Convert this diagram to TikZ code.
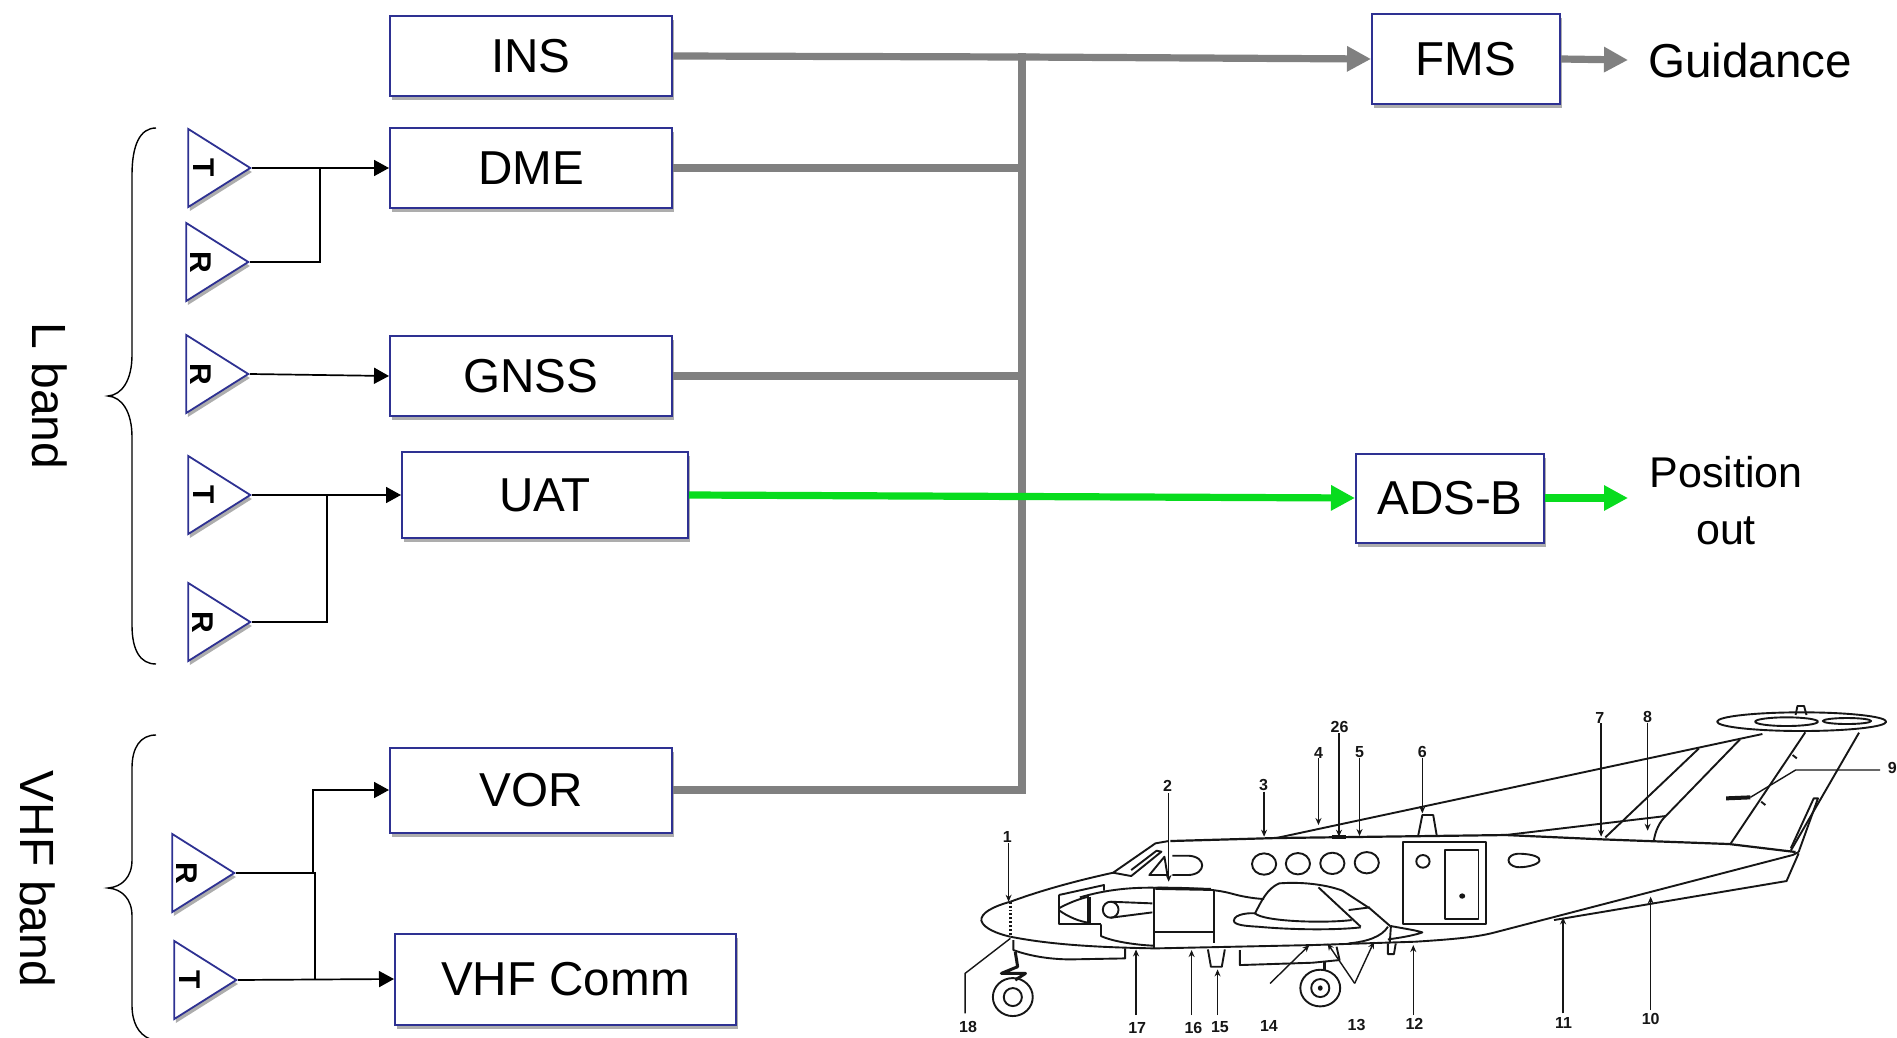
\documentclass[tikz,border=0pt]{standalone}
\usepackage{fontspec}
\setmainfont{Liberation Sans}
\usetikzlibrary{arrows.meta,shapes.geometric,shadows}
\definecolor{boxblue}{HTML}{2E3192}
\definecolor{busgray}{HTML}{808080}
\definecolor{adsgreen}{HTML}{08DC1E}
\definecolor{ink}{HTML}{161616}
\tikzset{
  softshadow/.style={drop shadow={shadow xshift=.8pt,shadow yshift=-2pt,opacity=.32,fill=black}},
  unit/.style={draw=boxblue,line width=1pt,fill=white,softshadow,inner sep=0pt,font=\fontsize{23.8}{26}\selectfont},
  antenna/.style={isosceles triangle,isosceles triangle apex angle=63.4,isosceles triangle stretches,
     minimum width=39pt,minimum height=31pt,inner sep=0pt,anchor=apex,draw=boxblue,line width=.9pt,fill=white,softshadow},
  antlabel/.style={rotate=-90,font=\bfseries\fontsize{15}{15}\selectfont,inner sep=0pt},
  feed/.style={draw=black,line width=.85pt},
  feedarrow/.style={feed,-{Triangle[length=7.5pt,width=8pt]}},
  bus/.style={draw=busgray,line width=3.6pt},
  busarrow/.style={bus,-{Triangle[length=12pt,width=12pt]}},
  greenarrow/.style={draw=adsgreen,line width=3.6pt,-{Triangle[length=12pt,width=12pt]}},
  bracket/.style={draw=black,line width=.7pt},
  bandlabel/.style={rotate=-90,font=\fontsize{24}{26}\selectfont,inner sep=0pt},
  outlabel/.style={inner sep=0pt,anchor=west},
  plane/.style={draw=ink,line width=.95pt,line join=round},
  leader/.style={draw=ink,line width=.7pt,-{Stealth[length=3.5pt,width=3pt]}},
  leaderplain/.style={draw=ink,line width=.7pt},
  num/.style={inner sep=0pt,text=ink,font=\bfseries\fontsize{8}{8}\selectfont},
}
\begin{document}
\begin{tikzpicture}[x=0.5pt,y=-0.5pt]
\useasboundingbox (0,0) rectangle (1897,1038);
\fill[white] (0,0) rectangle (1897,1038);
\clip (0,0) rectangle (1897,1038);

% boxes
\node[unit,minimum width=141pt,minimum height=40pt] (ins) at (531,56) {INS};
\node[unit,minimum width=141pt,minimum height=40pt] (dme) at (531,168) {DME};
\node[unit,minimum width=141pt,minimum height=40pt] (gnss) at (531,376) {GNSS};
\node[unit,minimum width=143pt,minimum height=43pt] (uat) at (545,495) {UAT};
\node[unit,minimum width=141pt,minimum height=42.5pt] (vor) at (531,790) {VOR};
\node[unit,minimum width=170.5pt,minimum height=45.5pt] (vhf) at (565.5,979) {VHF Comm};
\node[unit,minimum width=94pt,minimum height=45pt] (fms) at (1466,59) {FMS};
\node[unit,minimum width=94pt,minimum height=44.5pt] (adsb) at (1450,498) {ADS-B};

% antennas
\node[antenna] (t1) at (252,168) {};
\node[antenna] (r1) at (250,262) {};
\node[antenna] (r2) at (250,374) {};
\node[antenna] (t2) at (252,495) {};
\node[antenna] (r3) at (252,622) {};
\node[antenna] (r4) at (236,873) {};
\node[antenna] (t3) at (238,980) {};
\node[antlabel] (t1l) at (204,168) {T};
\node[antlabel] (r1l) at (201,262) {R};
\node[antlabel] (r2l) at (201,374) {R};
\node[antlabel] (t2l) at (204,495) {T};
\node[antlabel] (r3l) at (203,622) {R};
\node[antlabel] (r4l) at (187,873) {R};
\node[antlabel] (t3l) at (190,980) {T};

% antenna feeds
\coordinate (ja) at (320,168);
\coordinate (jb) at (327,495);
\coordinate (jc) at (313,873);
\coordinate (jd) at (315,873);
\coordinate (je) at (315,979);
\draw[feedarrow] (t1.apex) -- (dme.west);
\draw[feed] (r1.apex) -| (ja);
\draw[feedarrow] (r2.apex) -- (gnss.west);
\draw[feedarrow] (t2.apex) -- (uat.west);
\draw[feed] (r3.apex) -| (jb);
\draw[feed] (r4.apex) -- (jd) -- (je);
\draw[feedarrow] (jc) |- (vor.west);
\draw[feedarrow] (t3.apex) -- (vhf.west);

% bus
\coordinate (bt) at (1022,57);
\coordinate (bd) at (1022,168);
\coordinate (bg) at (1022,376);
\coordinate (bv) at (1022,790);
\coordinate (guid) at (1628,60);
\coordinate (posn) at (1628,498);
\draw[bus,line cap=butt] (ins.east) -- (bt);
\draw[bus] (dme.east) -- (bd);
\draw[bus] (gnss.east) -- (bg);
\draw[bus] (vor.east) -- (bv);
\draw[bus,line cap=rect] (bt) -- (bv);
\draw[busarrow] (bt) -- (fms.west);
\draw[busarrow] (fms.east) -- (guid);
\draw[greenarrow] (uat.east) -- (adsb.west);
\draw[greenarrow] (adsb.east) -- (posn);

% outputs
\node[outlabel,font=\fontsize{23.8}{28}\selectfont] (guidance) at (1648,60) {Guidance};
\node[inner sep=0pt,font=\fontsize{21.5}{28.5}\selectfont,align=center] (position) at (1726,501) {Position\\out};

% braces
\draw[bracket] (156,128) .. controls (140,128) and (132,145) .. (132,175) -- (132,355)
  .. controls (132,380) and (122,395) .. (108,396) .. controls (122,397) and (132,412) .. (132,437)
  -- (132,625) .. controls (132,650) and (140,664) .. (156,664);
\draw[bracket] (156,735) .. controls (140,735) and (132,748) .. (132,768) -- (132,860)
  .. controls (132,877) and (122,887) .. (108,888) .. controls (122,889) and (132,899) .. (132,916)
  -- (132,1005) .. controls (132,1022) and (138,1034) .. (150,1039);
\node[bandlabel] (lband) at (50,396) {L band};
\node[bandlabel] (vhfband) at (38,879) {VHF band};

% aircraft
\begin{scope}[shift={(950,680)},x=0.302pt,y=-0.1667pt]
\draw[plane,line width=1.1pt] (365,483) -- (540,474) -- (920,465) -- (1080,478) -- (1290,492) -- (1400,516);
\draw[plane] (100,665) .. controls (70,680) and (50,700) .. (52,722) .. controls (55,745) and (80,762) .. (100,770);
\draw[plane,densely dotted,line width=1.3pt] (100,665) -- (100,770);
\draw[plane] (100,665) .. controls (160,625) and (220,598) .. (270,578) -- (340,490) -- (362,483);
\draw[plane] (270,578) -- (300,588) -- (350,515) -- (342,512) -- (300,570);
\draw[plane] (330,585) -- (355,530) -- (360,585) -- cycle;
\draw[plane] (100,770) .. controls (170,795) and (250,802) .. (340,805) -- (600,795) -- (770,785) .. controls (830,778) and (870,772) .. (900,758) -- (1395,525) -- (1405,516);
\draw[plane] (1000,720) -- (1385,603) -- (1405,520);
\draw[plane] (105,780) -- (105,810) .. controls (135,830) and (170,838) .. (200,838) -- (290,835) -- (290,805);
\draw[plane,line width=1.5pt] (108,815) -- (112,860) -- (85,880) -- (125,880) -- (108,900);
\draw[plane] (104,951) ellipse [x radius=33,y radius=57];
\draw[plane] (104,951) ellipse [x radius=15,y radius=27];
\draw[plane] (613,924) ellipse [x radius=33,y radius=55];
\draw[plane] (613,924) ellipse [x radius=15,y radius=27];
\fill[ink] (613,924) ellipse [x radius=4,y radius=8];
\draw[plane,line width=1.3pt] (620,845) -- (620,870);
\draw[plane] (480,810) -- (480,855) -- (600,848) -- (645,840) -- (640,800);
\draw[plane] (427,808) -- (432,860) -- (450,860) -- (455,808);
\draw[plane] (725,790) -- (725,822) -- (735,822) -- (738,790);
% antenna on the roof
\draw[plane] (775,468) -- (782,405) -- (800,405) -- (806,468);
% windows
\draw[plane] (520,552) ellipse [x radius=20,y radius=32];
\draw[plane] (576,551) ellipse [x radius=20,y radius=32];
\draw[plane] (633,550) ellipse [x radius=20,y radius=32];
\draw[plane] (690,548) ellipse [x radius=20,y radius=32];
\draw[plane] (368,527) -- (395,527) .. controls (425,530) and (425,582) .. (395,585) -- (368,585);
\draw[plane] (783,544) ellipse [x radius=11,y radius=19];
\draw[plane] (940,521) .. controls (965,521) and (978,532) .. (976,542) .. controls (974,555) and (950,564) .. (938,561) .. controls (920,555) and (920,524) .. (940,521) -- cycle;
% door
\draw[plane] (750,487) rectangle (888,733);
\draw[plane] (820,510) rectangle (875,718);
\fill[ink] (848,648) ellipse [x radius=5,y radius=8];
% nacelle
\draw[plane] (215,652) .. controls (260,628) and (300,622) .. (340,623) .. controls (400,622) and (440,628) .. (465,640) .. controls (480,648) and (500,655) .. (520,657);
\draw[plane,line width=1.5pt] (340,625) -- (432,628);
\draw[plane] (338,625) -- (338,805);
\draw[plane] (437,630) -- (437,790);
\draw[plane] (338,755) -- (437,755);
\draw[plane] (180,645) -- (255,615) -- (255,632);
\draw[plane] (180,645) -- (180,733) -- (250,733);
\draw[plane,line width=1.6pt] (230,650) -- (230,733);
\draw[plane] (180,685) .. controls (195,670) and (215,655) .. (230,650);
\draw[plane] (180,690) .. controls (195,710) and (215,725) .. (230,728);
\draw[plane] (266,689) ellipse [x radius=13,y radius=24];
\draw[plane] (266,665) -- (335,670);
\draw[plane] (266,713) -- (335,697);
\draw[plane] (250,733) -- (250,768) .. controls (270,785) and (310,795) .. (338,797);
% wing
\draw[plane] (505,700) .. controls (515,665) and (525,625) .. (545,610) .. controls (580,605) and (620,612) .. (650,632) -- (695,685) -- (730,740);
\draw[plane] (505,700) .. controls (500,698) and (470,700) .. (470,722) .. controls (470,735) and (490,738) .. (510,740) .. controls (570,750) and (640,750) .. (680,742);
\draw[plane] (505,700) .. controls (520,725) and (620,730) .. (665,720);
\draw[plane] (610,622) -- (680,740);
\draw[plane] (660,690) -- (695,682);
\draw[plane] (725,740) .. controls (715,770) and (690,785) .. (660,790);
\draw[plane] (730,738) .. controls (750,745) and (770,750) .. (782,757) .. controls (770,765) and (750,772) .. (725,778);
\draw[plane] (730,738) -- (728,790);
% tail
\draw[plane] (540,474) -- (1345,162);
\draw[plane] (920,465) -- (1185,408);
\draw[plane] (1085,472) -- (1240,205);
\draw[plane] (1165,484) .. controls (1168,450) and (1175,425) .. (1185,408) -- (1308,178);
\draw[plane] (1292,492) -- (1416,157);
\draw[plane] (1392,512) -- (1505,158);
\draw[plane] (1392,505) -- (1430,355) -- (1437,355) -- (1405,516);
\draw[plane] (1410,125) ellipse [x radius=140,y radius=28];
\draw[plane] (1385,125) ellipse [x radius=52,y radius=13];
\draw[plane] (1485,123) ellipse [x radius=40,y radius=9];
\draw[plane] (1400,105) -- (1403,78) -- (1414,78) -- (1418,105);
\draw[plane] (1395,225) -- (1402,235);
\draw[plane] (1343,365) -- (1350,375);
% leaders
\draw[leader] (97,490) -- (97,665);
\draw[leader] (362,340) -- (362,605);
\draw[leader] (520,335) -- (520,470);
\draw[leader] (610,235) -- (610,435);
\draw[leader] (644,160) -- (644,470);
\draw[leader] (678,235) -- (678,468);
\draw[leader] (782,235) -- (782,400);
\draw[leader] (1078,130) -- (1078,470);
\draw[leader] (1155,130) -- (1155,452);
\draw[leader] (1160,990) -- (1160,650);
\draw[leader] (1015,1000) -- (1015,712);
\draw[leader] (767,1005) -- (767,795);
\draw[leader] (670,910) -- (625,790);
\draw[leader] (670,910) -- (702,785);
\draw[leader] (530,910) -- (595,795);
\draw[leader] (443,1005) -- (443,868);
\draw[leader] (400,1005) -- (400,810);
\draw[leader] (308,1005) -- (308,808);
\draw[leaderplain] (25,1000) -- (25,880) -- (100,775);
\draw[plane,line width=2pt] (1285,355) -- (1325,352);
\draw[leaderplain] (1325,352) -- (1400,270) -- (1540,270);
\draw[plane,line width=1.8pt] (632,470) -- (656,470);
% numbers
\node[num] (n1) at (95,470) {1};
\node[num] (n2) at (360,318) {2};
\node[num] (n3) at (519,316) {3};
\node[num] (n4) at (610,218) {4};
\node[num] (n26) at (645,140) {26};
\node[num] (n5) at (678,216) {5};
\node[num] (n6) at (782,217) {6};
\node[num] (n7) at (1076,113) {7};
\node[num] (n8) at (1155,112) {8};
\node[num] (n9) at (1560,265) {9};
\node[num] (n10) at (1160,1018) {10};
\node[num] (n11) at (1016,1028) {11};
\node[num] (n12) at (769,1032) {12};
\node[num] (n13) at (673,1035) {13};
\node[num] (n14) at (528,1038) {14};
\node[num] (n15) at (447,1040) {15};
\node[num] (n16) at (403,1043) {16};
\node[num] (n17) at (310,1043) {17};
\node[num] (n18) at (30,1042) {18};
\end{scope}
\end{tikzpicture}
\end{document}
